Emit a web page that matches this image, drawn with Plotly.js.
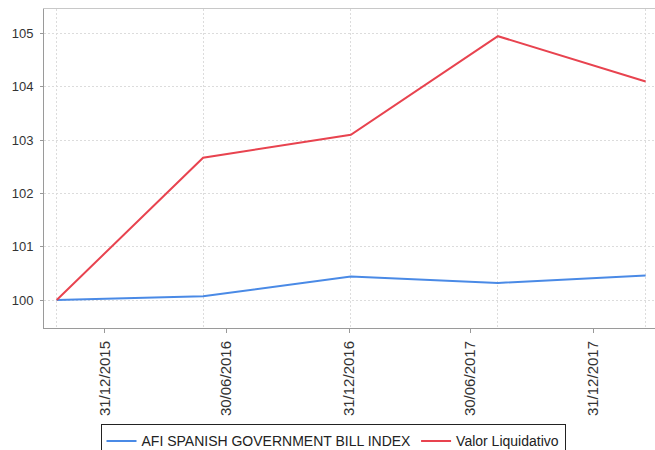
<!DOCTYPE html>
<html>
<head>
<meta charset="utf-8">
<script src="https://cdn.plot.ly/plotly-3.0.1.min.js"></script>
<style>html,body{margin:0;padding:0;background:#fff;}#chart{width:655px;height:450px;}</style>
</head>
<body>
<div id="chart"></div>
<script>
// Data
var dates = ['2015-10-20', '2016-05-26', '2017-01-02', '2017-08-10', '2018-03-19'];
var afiIndex = [100, 100.07, 100.44, 100.32, 100.46];
var valorLiquidativo = [100, 102.67, 103.1, 104.95, 104.1];
var tickDates = ['2015-12-31', '2016-06-30', '2016-12-31', '2017-06-30', '2017-12-31'];
var tickLabels = ['31/12/2015', '30/06/2016', '31/12/2016', '30/06/2017', '31/12/2017'];
var seriesNames = ['AFI SPANISH GOVERNMENT BILL INDEX', 'Valor Liquidativo'];

var xRange = ['2015-10-01', '2018-04-02'];
var gridStyle = {color: '#dcdcdc', dash: '2px,2px'};

var traces = [
  {x: dates, y: afiIndex, name: seriesNames[0], type: 'scatter', mode: 'lines',
   line: {color: '#4a8ae6', width: 2}},
  {x: dates, y: valorLiquidativo, name: seriesNames[1], type: 'scatter', mode: 'lines',
   line: {color: '#e8434f', width: 2}},
  // invisible helper on the overlay axis that carries the vertical grid at data dates
  {x: dates, y: afiIndex, xaxis: 'x2', type: 'scatter', mode: 'lines', showlegend: false,
   hoverinfo: 'skip', opacity: 0, line: {width: 0}}
];

var layout = {
  width: 655, height: 450,
  margin: {l: 44, r: 0, t: 9, b: 122, autoexpand: false},
  paper_bgcolor: '#ffffff', plot_bgcolor: '#ffffff',
  font: {family: 'Liberation Sans, Arial, sans-serif', color: '#333'},
  showlegend: true,
  xaxis: {
    type: 'date', range: xRange,
    tickmode: 'array', tickvals: tickDates, ticktext: tickLabels,
    tickangle: -90, ticks: 'outside', ticklen: 4, tickcolor: '#999',
    tickfont: {size: 15, color: '#333', family: 'Liberation Sans, Arial, sans-serif'},
    ticklabelstandoff: 2,
    showgrid: false, zeroline: false,
    showline: true, linecolor: '#9a9a9a', linewidth: 1,
    fixedrange: true
  },
  xaxis2: {
    type: 'date', range: xRange, overlaying: 'x', side: 'top', anchor: 'y',
    tickmode: 'array', tickvals: dates,
    showticklabels: false, ticks: '',
    showgrid: true, gridcolor: gridStyle.color, griddash: gridStyle.dash, gridwidth: 1,
    zeroline: false, showline: true, linecolor: '#c8c8c8', linewidth: 1,
    fixedrange: true
  },
  yaxis: {
    range: [99.475, 105.46], tickmode: 'linear', tick0: 100, dtick: 1,
    ticks: 'outside', ticklen: 3, tickcolor: '#999',
    tickfont: {size: 13, color: '#333', family: 'Liberation Sans, Arial, sans-serif'},
    ticklabelstandoff: 4,
    showgrid: true, gridcolor: gridStyle.color, griddash: gridStyle.dash, gridwidth: 1,
    zeroline: false, showline: true, linecolor: '#9a9a9a', linewidth: 1,
    fixedrange: true
  },
  legend: {
    orientation: 'h', x: 0.473, xanchor: 'center', y: -0.302, yanchor: 'top',
    bordercolor: '#222', borderwidth: 1, bgcolor: '#ffffff',
    font: {size: 14, color: '#222', family: 'Liberation Sans, Arial, sans-serif'},
    itemwidth: 30, tracegroupgap: 0
  }
};

Plotly.newPlot('chart', traces, layout, {displayModeBar: false, staticPlot: true});
</script>
</body>
</html>
